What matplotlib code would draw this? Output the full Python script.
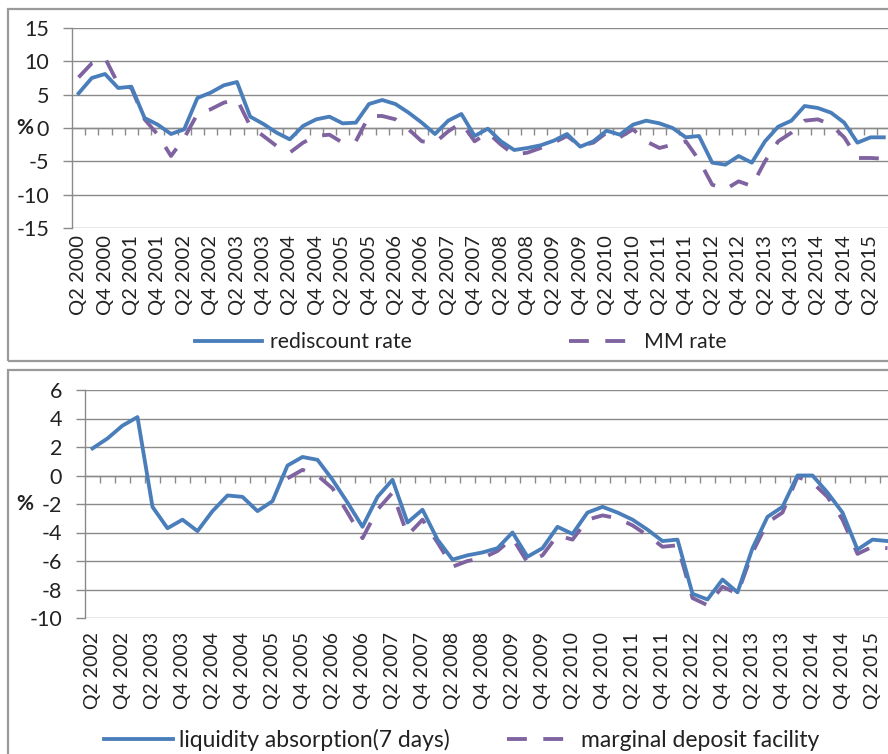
import numpy as np
import matplotlib
matplotlib.use('Agg')
import matplotlib.pyplot as plt
from matplotlib.patches import Rectangle

plt.rcParams['font.family'] = ['Lato', 'DejaVu Sans']
plt.rcParams['axes.unicode_minus'] = False


def quarters(year, q, count):
    out = []
    for _ in range(count):
        out.append('Q%d %d' % (q, year))
        q += 1
        if q > 4:
            q = 1
            year += 1
    return out


# top panel: Q2 2000 .. Q3 2015
top_cats = quarters(2000, 2, 62)
rediscount = [5.2, 7.5, 8.1, 6.0, 6.2, 1.5, 0.5, -0.9, -0.2, 4.5,
              5.3, 6.4, 6.9, 1.7, 0.6, -0.7, -1.7, 0.3, 1.3, 1.7,
              0.7, 0.8, 3.6, 4.2, 3.6, 2.3, 0.8, -0.9, 1.1, 2.1,
              -1.2, -0.1, -2.0, -3.3, -3.0, -2.6, -1.9, -0.9, -2.8, -2.0,
              -0.4, -1.0, 0.5, 1.1, 0.7, 0.0, -1.4, -1.2, -5.2, -5.5,
              -4.2, -5.2, -2.0, 0.2, 1.1, 3.3, 3.0, 2.3, 0.8, -2.2,
              -1.4, -1.4]
mm_rate = [7.6, 9.7, 10.5, 6.6, 6.0, 1.3, -1.0, -4.2, -1.5, 2.1,
           2.8, 3.8, 4.3, 0.3, -1.2, -2.7, -3.7, -2.2, -1.2, -1.0,
           -2.2, -2.0, 1.8, 1.8, 1.3, -0.2, -2.0, -2.2, -0.5, 0.8,
           -2.0, -0.7, -2.5, -4.0, -3.7, -3.0, -2.2, -1.2, -2.7, -2.2,
           -0.7, -1.4, -0.2, -2.0, -3.0, -2.5, -2.0, -4.8, -8.5, -9.2,
           -8.0, -8.7, -5.0, -2.0, -0.7, 1.1, 1.3, 0.5, -1.4, -4.5,
           -4.5, -4.6]

# bottom panel: Q2 2002 .. Q3 2015
bottom_cats = quarters(2002, 2, 54)
liquidity = [1.9, 2.6, 3.5, 4.1, -2.2, -3.7, -3.1, -3.9, -2.5, -1.4,
             -1.5, -2.5, -1.8, 0.7, 1.3, 1.1, -0.3, -1.9, -3.6, -1.5,
             -0.3, -3.3, -2.4, -4.5, -5.9, -5.6, -5.4, -5.1, -4.0, -5.7,
             -5.1, -3.6, -4.1, -2.6, -2.2, -2.6, -3.1, -3.8, -4.6, -4.5,
             -8.3, -8.7, -7.3, -8.2, -5.1, -2.9, -2.2, 0.0, 0.0, -1.2,
             -2.6, -5.2, -4.5, -4.6]
marginal = [np.nan] * 13 + [
    -0.2, 0.4, 0.0, -0.9, -2.6, -4.4, -2.4, -1.2, -4.2, -3.1,
    -4.7, -6.4, -6.0, -5.8, -5.3, -4.4, -6.1, -5.6, -4.2, -4.5,
    -3.1, -2.8, -3.0, -3.5, -4.2, -5.0, -4.9, -8.6, -9.1, -7.8,
    -8.3, -5.4, -3.3, -2.6, -0.1, -0.5, -1.5, -3.1, -5.5, -5.0,
    -5.1]

BLUE = '#4a7ebb'
PURPLE = '#7f62a0'
GRID = '#8a8a8a'
TXT = '#222222'
LW = 2.75
DASH = (0, (5.2, 4.3))

W, H = 888, 754
fig = plt.figure(figsize=(W / 100, H / 100), dpi=100)
fig.patch.set_facecolor('white')

# chart area frames (cut off on the right / bottom like the screenshot)
fig.patches.append(Rectangle((7.5 / W, 1 - 360.5 / H), 1.0, 351 / H,
                             transform=fig.transFigure, fill=False,
                             edgecolor='#9a9a9a', lw=1.6, clip_on=False))
fig.patches.append(Rectangle((7.5 / W, -0.1), 1.0, 0.1 + 1 - 370 / H,
                             transform=fig.transFigure, fill=False,
                             edgecolor='#9a9a9a', lw=1.6, clip_on=False))

ax1 = fig.add_axes([72 / W, 1 - 228 / H, (890.4 - 72) / W, 200 / H])
ax2 = fig.add_axes([85 / W, 1 - 618 / H, 810 / W, 228 / H])


def style_panel(ax, cats, ylim, step, label_pad, xsize, ylab_x):
    n = len(cats)
    ax.set_xlim(-0.5, n - 0.5)
    ax.set_ylim(*ylim)
    ax.set_yticks(np.arange(ylim[0], ylim[1] + 0.1, step))
    ax.yaxis.set_major_formatter(plt.FuncFormatter(lambda v, p: '%d' % v))
    ax.grid(axis='y', color=GRID, lw=1.0)
    ax.set_axisbelow(True)
    for s in ('top', 'right', 'bottom'):
        ax.spines[s].set_visible(False)
    ax.spines['left'].set_color(GRID)
    ax.spines['left'].set_linewidth(1.0)
    ax.tick_params(axis='y', length=6.5, width=1.0, color=GRID, pad=10,
                   labelsize=15.5, labelcolor=TXT)
    ax.set_xticks(np.arange(0, n, 2))
    ax.set_xticklabels(cats[::2], rotation=90, fontsize=xsize, color=TXT)
    ax.tick_params(axis='x', length=0, pad=label_pad)
    ax.set_ylabel('%', rotation=0, fontsize=15, fontweight='bold',
                  color=TXT, va='center', ha='center')
    ax.yaxis.set_label_coords(ylab_x, 0.5)
    # category axis crossing at zero, with a tick at every quarter boundary
    zero = (0 - ylim[0]) / (ylim[1] - ylim[0])
    sec = ax.secondary_xaxis(zero)
    sec.set_alignment('bottom')
    sec.set_xticks(np.arange(n) + 0.5)
    sec.tick_params(axis='x', direction='out', length=5, width=1.0,
                    color=GRID, labelbottom=False, labeltop=False)
    sec.spines['bottom'].set_color(GRID)
    sec.spines['bottom'].set_linewidth(1.0)


style_panel(ax1, top_cats, (-15, 15), 5, 5, 14.5, -0.0575)
style_panel(ax2, bottom_cats, (-10, 6), 2, 10, 14, -0.074)

x1 = np.arange(len(top_cats))
ax1.plot(x1, mm_rate, color=PURPLE, lw=LW, ls=DASH, zorder=3,
         label='MM rate')
ax1.plot(x1, rediscount, color=BLUE, lw=LW, zorder=4,
         solid_joinstyle='round', label='rediscount rate')

x2 = np.arange(len(bottom_cats))
ax2.plot(x2, marginal, color=PURPLE, lw=LW, ls=DASH, zorder=3,
         label='marginal deposit facility')
ax2.plot(x2, liquidity, color=BLUE, lw=LW, zorder=4,
         solid_joinstyle='round', label='liquidity absorption(7 days)')

h, l = ax1.get_legend_handles_labels()
fig.legend(h[::-1], l[::-1], loc='center', bbox_to_anchor=(0.519, 1 - 342 / H),
           ncol=2, frameon=False, fontsize=15.3, handlelength=3.15,
           handletextpad=0.38, columnspacing=7.4, labelcolor=TXT)
h, l = ax2.get_legend_handles_labels()
fig.legend(h[::-1], l[::-1], loc='center', bbox_to_anchor=(0.52, 1 - 740 / H),
           ncol=2, frameon=False, fontsize=16.5, handlelength=3.0,
           handletextpad=0.25, columnspacing=2.5, labelcolor=TXT)

fig.savefig('out.png', dpi=100)
